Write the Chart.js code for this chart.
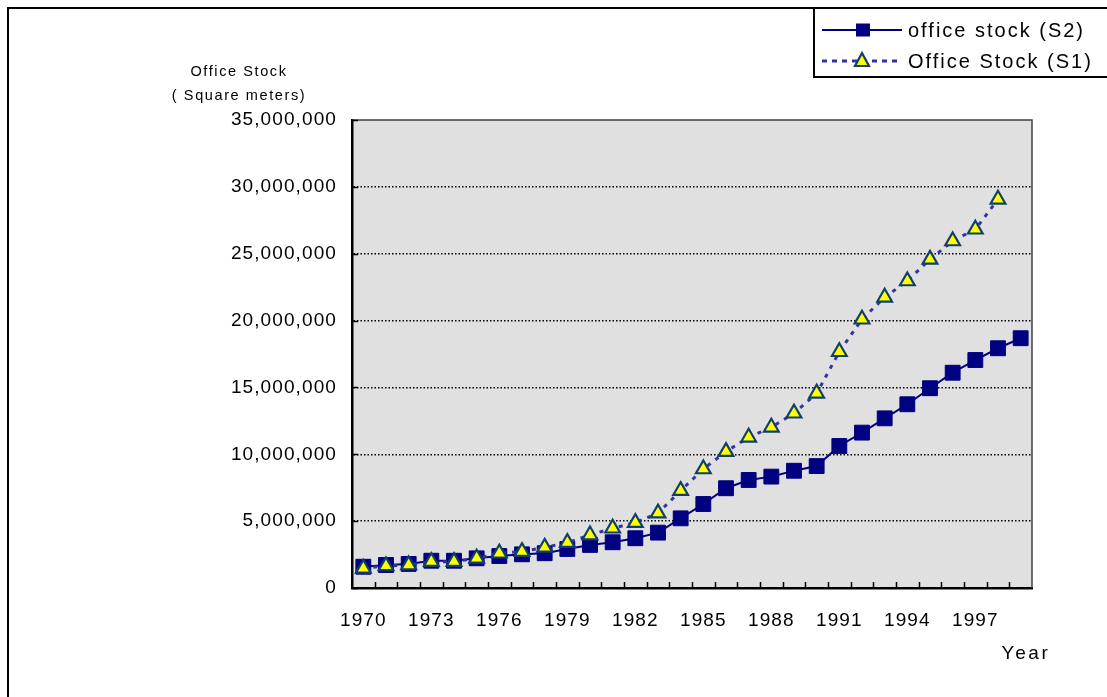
<!DOCTYPE html>
<html>
<head>
<meta charset="utf-8">
<script src="https://cdn.jsdelivr.net/npm/chart.js@4/dist/chart.umd.min.js"></script>
<style>
  html, body { margin: 0; padding: 0; background: #fff; }
  #wrap { width: 1107px; height: 697px; position: relative; }
</style>
</head>
<body>
<div id="wrap"><canvas id="stockChart" width="1107" height="697"></canvas></div>
<script>
// Year categories on the x axis
const years = ['1970','1971','1972','1973','1974','1975','1976','1977','1978','1979',
               '1980','1981','1982','1983','1984','1985','1986','1987','1988','1989',
               '1990','1991','1992','1993','1994','1995','1996','1997','1998','1999'];

// office stock (S2), square meters
const stockS2 = [1590000, 1720000, 1800000, 2040000, 2040000, 2220000, 2390000, 2520000, 2600000, 2920000,
                 3220000, 3420000, 3720000, 4140000, 5210000, 6280000, 7460000, 8080000, 8330000, 8770000,
                 9120000, 10620000, 11620000, 12690000, 13740000, 14940000, 16100000, 17050000, 17930000, 18680000];

// Office Stock (S1), square meters (ends 1998)
const stockS1 = [1470000, 1650000, 1720000, 1970000, 1970000, 2220000, 2600000, 2720000, 3040000, 3390000,
                 3960000, 4470000, 4890000, 5600000, 7280000, 8900000, 10200000, 11270000, 12020000, 13070000,
                 14560000, 17670000, 20100000, 21740000, 22960000, 24580000, 25950000, 26830000, 29070000];

const yTicks = [0, 5000000, 10000000, 15000000, 20000000, 25000000, 30000000, 35000000];

const FONT = '"Liberation Sans", Arial, sans-serif';
const TICK_SPACING = 1.1;

// text is widely spaced in the original
function spacing(ctx, px) {
    ctx.letterSpacing = px + 'px';
}

// background, frame, inner ticks, axis titles and legend
const decorations = {
    id: 'decorations',
    beforeUpdate(chart) { spacing(chart.ctx, TICK_SPACING); },
    beforeDraw(chart) {
        const ctx = chart.ctx;
        const a = chart.chartArea;
        spacing(ctx, TICK_SPACING);
        ctx.save();
        ctx.fillStyle = '#fff';
        ctx.fillRect(0, 0, chart.width, chart.height);
        ctx.fillStyle = '#e0e0e0';
        ctx.fillRect(a.left, a.top, a.right - a.left, a.bottom - a.top);
        ctx.restore();
    },
    beforeDatasetsDraw(chart) {
        const ctx = chart.ctx;
        const a = chart.chartArea;
        const y = chart.scales.y;
        ctx.save();
        // top and right frame
        ctx.strokeStyle = '#404040';
        ctx.lineWidth = 1.5;
        ctx.beginPath();
        ctx.moveTo(a.left, a.top);
        ctx.lineTo(a.right, a.top);
        ctx.lineTo(a.right, a.bottom);
        ctx.stroke();
        // tick marks pointing inward
        ctx.strokeStyle = '#000';
        ctx.lineWidth = 1.5;
        const w = (a.right - a.left) / years.length;
        for (let k = 1; k < years.length; k++) {
            const px = Math.round(a.left + k * w) + 0.5;
            ctx.beginPath();
            ctx.moveTo(px, a.bottom);
            ctx.lineTo(px, a.bottom - 6);
            ctx.stroke();
        }
        yTicks.forEach(v => {
            const py = Math.round(y.getPixelForValue(v)) + 0.5;
            ctx.beginPath();
            ctx.moveTo(a.left, py);
            ctx.lineTo(a.left + 6, py);
            ctx.stroke();
        });
        ctx.restore();
    },
    afterDraw(chart) {
        const ctx = chart.ctx;
        ctx.save();
        // outer chart border
        ctx.strokeStyle = '#000';
        ctx.lineWidth = 2;
        ctx.strokeRect(8, 8, 1200, 800);

        // axis titles
        ctx.fillStyle = '#000';
        ctx.textBaseline = 'middle';
        ctx.textAlign = 'center';
        ctx.font = '14.5px ' + FONT;
        spacing(ctx, 1.6);
        ctx.fillText('Office Stock', 239, 72);
        ctx.fillText('( Square meters)', 239, 96);
        ctx.font = '19px ' + FONT;
        spacing(ctx, 2.6);
        ctx.fillText('Year', 1026, 654);

        // legend box
        ctx.lineWidth = 2;
        ctx.strokeRect(814, 8, 400, 69);
        const ds = chart.data.datasets;
        const rows = [30, 61];
        ctx.font = '20px ' + FONT;
        spacing(ctx, 2.0);
        ctx.textAlign = 'left';
        ds.forEach((d, i) => {
            const ry = rows[i];
            ctx.save();
            ctx.strokeStyle = d.borderColor;
            ctx.lineWidth = d.borderWidth;
            ctx.setLineDash(i === 1 ? [5, 5] : []);
            ctx.beginPath();
            ctx.moveTo(822, ry);
            ctx.lineTo(902, ry);
            ctx.stroke();
            ctx.setLineDash([]);
            ctx.fillStyle = d.pointBackgroundColor;
            ctx.strokeStyle = d.pointBorderColor;
            ctx.lineWidth = d.pointBorderWidth;
            if (d.pointStyle === 'rect') {
                ctx.fillRect(856, ry - 6.5, 14, 13);
            } else {
                ctx.beginPath();
                ctx.moveTo(862, ry - 8);
                ctx.lineTo(869, ry + 5);
                ctx.lineTo(855, ry + 5);
                ctx.closePath();
                ctx.fill();
                ctx.stroke();
            }
            ctx.restore();
            ctx.fillStyle = '#000';
            ctx.fillText(d.label, 908, ry + 1);
        });
        ctx.restore();
        spacing(ctx, TICK_SPACING);
    }
};

function initChart() {
    const ctx = document.getElementById('stockChart').getContext('2d');
    new Chart(ctx, {
        type: 'line',
        data: {
            labels: years,
            datasets: [{
                label: 'office stock (S2)',
                data: stockS2,
                borderColor: '#000080',
                borderWidth: 2,
                pointStyle: 'rect',
                pointRadius: 10.5,
                pointBackgroundColor: '#000080',
                pointBorderColor: '#000080',
                pointBorderWidth: 1,
                tension: 0,
                order: 1
            }, {
                label: 'Office Stock (S1)',
                data: stockS1,
                borderColor: '#3333a0',
                borderWidth: 3,
                borderDash: [4, 6],
                pointStyle: 'triangle',
                pointRadius: 8.5,
                pointBackgroundColor: '#ffff00',
                pointBorderColor: '#10406a',
                pointBorderWidth: 2.2,
                tension: 0,
                order: 0
            }]
        },
        options: {
            responsive: false,
            animation: false,
            devicePixelRatio: 1,
            layout: { padding: { top: 120, right: 75, left: 0, bottom: 0 } },
            plugins: {
                legend: { display: false },
                tooltip: { enabled: false }
            },
            scales: {
                x: {
                    offset: true,
                    afterFit: s => { s.height = 109; },
                    grid: { display: false },
                    border: { display: true, color: '#000', width: 2.5 },
                    ticks: {
                        autoSkip: false,
                        maxRotation: 0,
                        padding: 13,
                        color: '#000',
                        font: { family: FONT, size: 19 },
                        callback: function(v, i) { return i % 3 === 0 ? years[i] : ''; }
                    }
                },
                y: {
                    min: 0,
                    max: 35000000,
                    afterFit: s => { s.width = 352; },
                    afterBuildTicks: s => { s.ticks = yTicks.map(v => ({ value: v })); },
                    grid: {
                        drawTicks: false,
                        color: c => (c.tick.value === 0 || c.tick.value === 35000000) ? 'rgba(0,0,0,0)' : '#000',
                        lineWidth: 1.5
                    },
                    border: { display: true, color: '#000', width: 2.5, dash: [1.5, 2] },
                    ticks: {
                        padding: 15,
                        color: '#000',
                        font: { family: FONT, size: 19 },
                        callback: v => v.toLocaleString('en-US')
                    }
                }
            }
        },
        plugins: [decorations]
    });
}

initChart();
</script>
</body>
</html>
